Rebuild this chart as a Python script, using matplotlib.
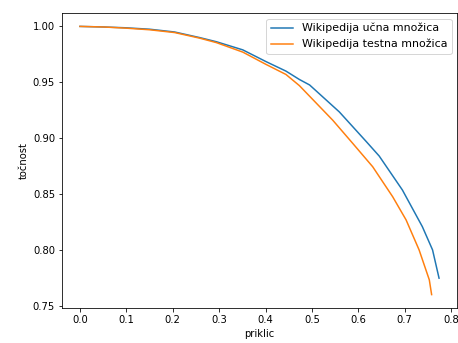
import numpy as np
import matplotlib
matplotlib.use("Agg")
import matplotlib.pyplot as plt

# recall / precision values
train_recall = [0.0, 0.05, 0.097, 0.15, 0.204, 0.258, 0.294, 0.351, 0.401, 0.444, 0.473,
                0.495, 0.559, 0.617, 0.645, 0.695, 0.738, 0.760, 0.774]
train_prec = [1.0, 0.9995, 0.9988, 0.9975, 0.995, 0.990, 0.9863, 0.979, 0.9685, 0.960, 0.9525,
              0.9476, 0.9235, 0.897, 0.884, 0.8536, 0.8208, 0.800, 0.7747]

test_recall = [0.0, 0.05, 0.097, 0.15, 0.204, 0.258, 0.294, 0.351, 0.401, 0.444, 0.473,
               0.545, 0.588, 0.631, 0.674, 0.703, 0.731, 0.753, 0.758]
test_prec = [1.0, 0.9995, 0.9985, 0.997, 0.9945, 0.9895, 0.9855, 0.977, 0.966, 0.957, 0.947,
             0.916, 0.8953, 0.8744, 0.8476, 0.8268, 0.800, 0.7732, 0.760]

fig = plt.figure(figsize=(458 / 72, 343 / 72), dpi=72)
ax = fig.add_axes([62 / 458, 35 / 343, 395 / 458, 295 / 343])

ax.plot(train_recall, train_prec, label="Wikipedija učna množica")
ax.plot(test_recall, test_prec, label="Wikipedija testna množica")
ax.set_xlabel("priklic")
ax.set_ylabel("točnost")
ax.legend(loc="upper right", fontsize=11)

fig.savefig("out.png", dpi=72)
